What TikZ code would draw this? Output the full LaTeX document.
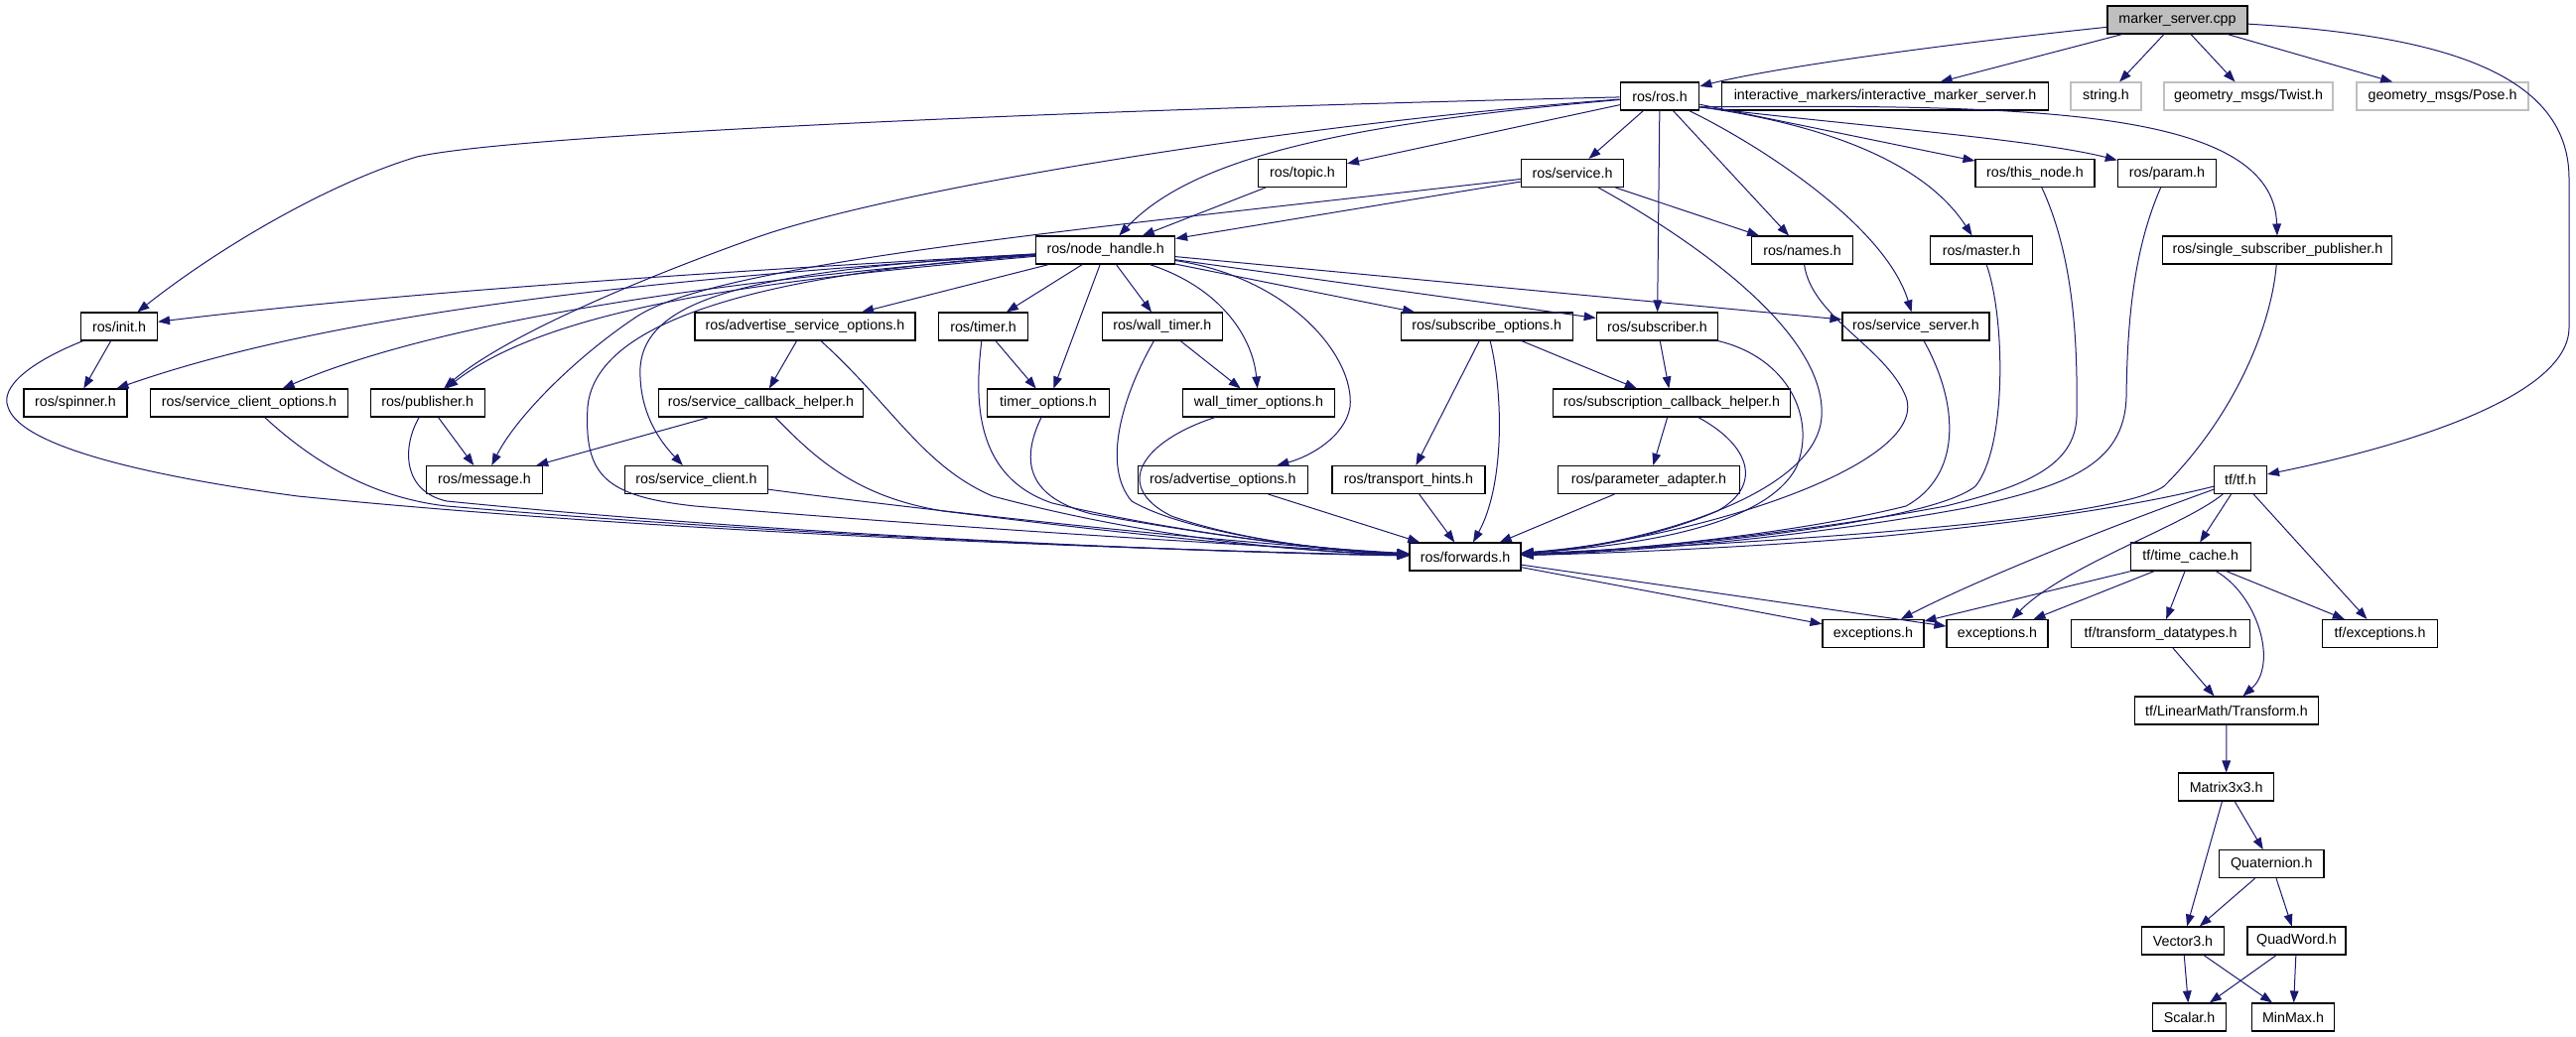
\documentclass[tikz,border=0pt]{standalone}
\usepackage{fontspec}
\setmainfont{Liberation Sans}
\usetikzlibrary{arrows.meta}
\definecolor{edgec}{HTML}{191970}
\definecolor{greyc}{HTML}{BFBFBF}
\begin{document}
\begin{tikzpicture}[x=0.75pt,y=-0.75pt,
  font=\fontsize{10.7}{12}\selectfont,
  box/.style={draw=black,line width=0.8pt,fill=white,minimum height=21pt,inner sep=0pt,anchor=center},
  bw/.style={minimum width=#1*0.75pt},
  gbox/.style={box,draw=greyc},
  rootbox/.style={box,fill=greyc},
  dep/.style={draw=edgec,line width=0.75pt,-{Triangle[length=9pt,width=6.5pt]}}]
\fill[white] (0,0) rectangle (2595,1045);
\useasboundingbox (0,0) rectangle (2595,1045);
% nodes
\node[rootbox,bw=141] (M) at (2193.5,20) {marker\_server.cpp};
\node[box,bw=79.5] (R) at (1672,97) {ros/ros.h};
\node[box,bw=328.5] (IM) at (1899,97) {interactive\_markers/interactive\_marker\_server.h};
\node[gbox,bw=71] (STR) at (2121.5,97) {string.h};
\node[gbox,bw=170] (TW) at (2265,97) {geometry\_msgs/Twist.h};
\node[gbox,bw=173] (PO) at (2460.5,97) {geometry\_msgs/Pose.h};
\node[box,bw=89] (TOP) at (1312,174.5) {ros/topic.h};
\node[box,bw=102.7] (SRV) at (1584,174.5) {ros/service.h};
\node[box,bw=120] (TN) at (2050,174.5) {ros/this\_node.h};
\node[box,bw=99.4] (PAR) at (2183,174.5) {ros/param.h};
\node[box,bw=140] (NH) at (1113.6,252) {ros/node\_handle.h};
\node[box,bw=102] (NM) at (1815.5,252) {ros/names.h};
\node[box,bw=102.6] (MA) at (1996,252) {ros/master.h};
\node[box,bw=231] (SSP) at (2294.4,252) {ros/single\_subscriber\_publisher.h};
\node[box,bw=77] (INI) at (120,329) {ros/init.h};
\node[box,bw=222] (ASO) at (811,329) {ros/advertise\_service\_options.h};
\node[box,bw=90.4] (TI) at (990.6,329) {ros/timer.h};
\node[box,bw=121] (WT) at (1170.8,329) {ros/wall\_timer.h};
\node[box,bw=173] (SO) at (1497.6,329) {ros/subscribe\_options.h};
\node[box,bw=122.5] (SUB) at (1669.5,329) {ros/subscriber.h};
\node[box,bw=148] (SS) at (1930,329) {ros/service\_server.h};
\node[box,bw=104] (SP) at (76,406) {ros/spinner.h};
\node[box,bw=199] (SCO) at (251,406) {ros/service\_client\_options.h};
\node[box,bw=115] (PUB) at (430.7,406) {ros/publisher.h};
\node[box,bw=206.6] (SCB) at (766.5,406) {ros/service\_callback\_helper.h};
\node[box,bw=122.6] (TO) at (1056,406) {timer\_options.h};
\node[box,bw=152.6] (WTO) at (1268,406) {wall\_timer\_options.h};
\node[box,bw=239] (SCH) at (1684,406) {ros/subscription\_callback\_helper.h};
\node[box,bw=117] (MSG) at (488,483.5) {ros/message.h};
\node[box,bw=144.3] (SC) at (701.5,483.5) {ros/service\_client.h};
\node[box,bw=171] (AO) at (1231.8,483.5) {ros/advertise\_options.h};
\node[box,bw=154] (TH) at (1419,483.5) {ros/transport\_hints.h};
\node[box,bw=182.7] (PA) at (1661,483.5) {ros/parameter\_adapter.h};
\node[box,bw=53] (TF) at (2257,483.5) {tf/tf.h};
\node[box,bw=112] (FW) at (1476,561) {ros/forwards.h};
\node[box,bw=121] (TC) at (2206.7,561) {tf/time\_cache.h};
\node[box,bw=102] (EX1) at (1887,638.5) {exceptions.h};
\node[box,bw=102] (EX2) at (2012,638.5) {exceptions.h};
\node[box,bw=180] (TDT) at (2176.5,638.5) {tf/transform\_datatypes.h};
\node[box,bw=115.4] (TFE) at (2397.6,638.5) {tf/exceptions.h};
\node[box,bw=185] (TR) at (2243,716) {tf/LinearMath/Transform.h};
\node[box,bw=96.6] (MX) at (2242.6,793) {Matrix3x3.h};
\node[box,bw=105.4] (QU) at (2288.3,870.7) {Quaternion.h};
\node[box,bw=83] (V3) at (2199,948) {Vector3.h};
\node[box,bw=99] (QW) at (2313.5,948) {QuadWord.h};
\node[box,bw=73.6] (SCL) at (2205.5,1025) {Scalar.h};
\node[box,bw=83.7] (MM) at (2310,1025) {MinMax.h};
% marker_server.cpp
\draw[dep] (M) .. controls (2000,40) and (1800,65) .. (R);
\draw[dep] (M) -- (IM);
\draw[dep] (M) -- (STR);
\draw[dep] (M) -- (TW);
\draw[dep] (M) -- (PO);
\draw[dep] (M) .. controls (2450,35) and (2588,70) .. (2588,180) -- (2588,330) .. controls (2588,400) and (2420,450) .. (TF);
% ros.h
\draw[dep] (R) .. controls (1100,110) and (520,135) .. (420,158) .. controls (330,185) and (220,250) .. (INI);
\draw[dep] (R) .. controls (1300,125) and (900,190) .. (760,240) .. controls (620,290) and (500,345) .. (PUB);
\draw[dep] (R) .. controls (1350,125) and (1200,160) .. (NH);
\draw[dep] (R) -- (TOP);
\draw[dep] (R) -- (SRV);
\draw[dep] (R) -- (SUB);
\draw[dep] (R) -- (NM);
\draw[dep] (R) .. controls (1780,150) and (1900,230) .. (SS);
\draw[dep] (R.-15) .. controls (1800,120) and (1930,150) .. (MA);
\draw[dep] (R) -- (TN);
\draw[dep] (R.-15) .. controls (1850,125) and (2050,140) .. (PAR);
\draw[dep] (R.-15) .. controls (2050,105) and (2290,110) .. (SSP);
% service.h
\draw[dep] (SRV) -- (NH);
\draw[dep] (SRV) .. controls (1100,230) and (720,265) .. (640,320) .. controls (580,360) and (520,420) .. (MSG);
\draw[dep] (SRV) -- (NM);
\draw[dep] (SRV) .. controls (1720,250) and (1840,340) .. (1835,420) .. controls (1830,500) and (1650,550) .. (FW);
% topic.h
\draw[dep] (TOP) -- (NH);
% node_handle.h
\draw[dep] (NH) .. controls (700,275) and (400,295) .. (INI);
\draw[dep] (NH) .. controls (700,278) and (350,310) .. (SP);
\draw[dep] (NH) .. controls (750,280) and (450,320) .. (SCO);
\draw[dep] (NH) .. controls (800,280) and (560,305) .. (PUB);
\draw[dep] (NH) .. controls (760,272) and (650,300) .. (645,370) .. controls (643,420) and (670,450) .. (SC);
\draw[dep] (NH) .. controls (780,275) and (600,320) .. (592,410) .. controls (588,480) and (610,500) .. (700,510) .. controls (1000,535) and (1300,552) .. (FW);
\draw[dep] (NH) -- (ASO);
\draw[dep] (NH) -- (TI);
\draw[dep] (NH) -- (TO);
\draw[dep] (NH) -- (WT);
\draw[dep] (NH) .. controls (1230,290) and (1262,340) .. (WTO);
\draw[dep] (NH) .. controls (1300,280) and (1365,360) .. (1360,410) .. controls (1355,440) and (1320,460) .. (AO);
\draw[dep] (NH) -- (SO);
\draw[dep] (NH) -- (SUB);
\draw[dep] (NH) -- (SS);
% init.h
\draw[dep] (INI) -- (SP);
\draw[dep] (INI) .. controls (30,365) and (0,390) .. (8,410) .. controls (20,450) and (150,480) .. (300,500) .. controls (700,540) and (1200,555) .. (FW);
% left side into forwards
\draw[dep] (SCO) .. controls (320,470) and (380,502) .. (450,510) .. controls (800,540) and (1200,556) .. (FW);
\draw[dep] (PUB) -- (MSG);
\draw[dep] (PUB) .. controls (405,450) and (405,495) .. (450,505) .. controls (800,540) and (1200,556) .. (FW);
\draw[dep] (SCB) -- (MSG);
\draw[dep] (SCB) .. controls (820,460) and (860,500) .. (950,515) .. controls (1150,540) and (1300,555) .. (FW);
\draw[dep] (ASO) -- (SCB);
\draw[dep] (ASO) .. controls (900,410) and (930,470) .. (1000,500) .. controls (1150,540) and (1300,556) .. (FW);
\draw[dep] (SC) .. controls (900,510) and (1200,545) .. (FW);
\draw[dep] (TI) -- (TO);
\draw[dep] (TI) .. controls (982,400) and (980,480) .. (1060,507) .. controls (1200,540) and (1350,555) .. (FW);
\draw[dep] (TO) .. controls (1030,460) and (1030,500) .. (1100,518) .. controls (1250,545) and (1350,555) .. (FW);
\draw[dep] (WT) -- (WTO);
\draw[dep] (WT) .. controls (1130,400) and (1110,470) .. (1140,505) .. controls (1200,540) and (1350,556) .. (FW);
\draw[dep] (WTO) .. controls (1150,445) and (1120,490) .. (1180,520) .. controls (1250,545) and (1350,556) .. (FW);
% top into forwards
\draw[dep] (AO) -- (FW);
\draw[dep] (TH) -- (FW);
\draw[dep] (SO) .. controls (1515,400) and (1515,490) .. (FW);
\draw[dep] (SO) -- (TH);
\draw[dep] (SO) -- (SCH);
\draw[dep] (SUB) -- (SCH);
\draw[dep] (SCH) -- (PA);
\draw[dep] (PA) -- (FW);
% right side into forwards
\draw[dep] (SUB) .. controls (1800,360) and (1830,420) .. (1810,470) .. controls (1780,530) and (1650,550) .. (FW);
\draw[dep] (SCH) .. controls (1765,450) and (1775,490) .. (1730,515) .. controls (1660,545) and (1580,555) .. (FW);
\draw[dep] (SS) .. controls (1975,410) and (1975,480) .. (1920,510) .. controls (1800,540) and (1620,556) .. (FW);
\draw[dep] (NM) .. controls (1825,320) and (1900,350) .. (1920,400) .. controls (1945,470) and (1700,545) .. (FW);
\draw[dep] (MA) .. controls (2020,320) and (2022,450) .. (1990,490) .. controls (1940,530) and (1650,555) .. (FW);
\draw[dep] (TN) .. controls (2090,260) and (2093,350) .. (2092,420) .. controls (2090,470) and (2040,490) .. (1960,510) .. controls (1800,540) and (1620,556) .. (FW);
\draw[dep] (PAR) .. controls (2150,250) and (2143,320) .. (2142,400) .. controls (2140,470) and (2080,490) .. (1980,512) .. controls (1800,545) and (1620,557) .. (FW);
\draw[dep] (SSP) .. controls (2288,330) and (2250,420) .. (2180,490) .. controls (2120,530) and (1700,550) .. (FW);
\draw[dep] (TF) .. controls (2150,510) and (2050,525) .. (1900,540) .. controls (1750,553) and (1600,558) .. (FW);
% forwards
\draw[dep] (FW) -- (EX1);
\draw[dep] (FW) -- (EX2);
% tf.h
\draw[dep] (TF) .. controls (2100,540) and (1980,590) .. (EX1);
\draw[dep] (TF) .. controls (2200,530) and (2080,570) .. (EX2);
\draw[dep] (TF) -- (TC);
\draw[dep] (TF) -- (TFE);
% time_cache
\draw[dep] (TC) -- (EX1);
\draw[dep] (TC) -- (EX2);
\draw[dep] (TC) -- (TDT);
\draw[dep] (TC) -- (TFE);
\draw[dep] (TC) .. controls (2275,600) and (2295,670) .. (TR);
% linear math
\draw[dep] (TDT) -- (TR);
\draw[dep] (TR) -- (MX);
\draw[dep] (MX) -- (QU);
\draw[dep] (MX) -- (V3);
\draw[dep] (QU) -- (V3);
\draw[dep] (QU) -- (QW);
\draw[dep] (V3) -- (SCL);
\draw[dep] (V3) -- (MM);
\draw[dep] (QW) -- (SCL);
\draw[dep] (QW) -- (MM);
\end{tikzpicture}
\end{document}
